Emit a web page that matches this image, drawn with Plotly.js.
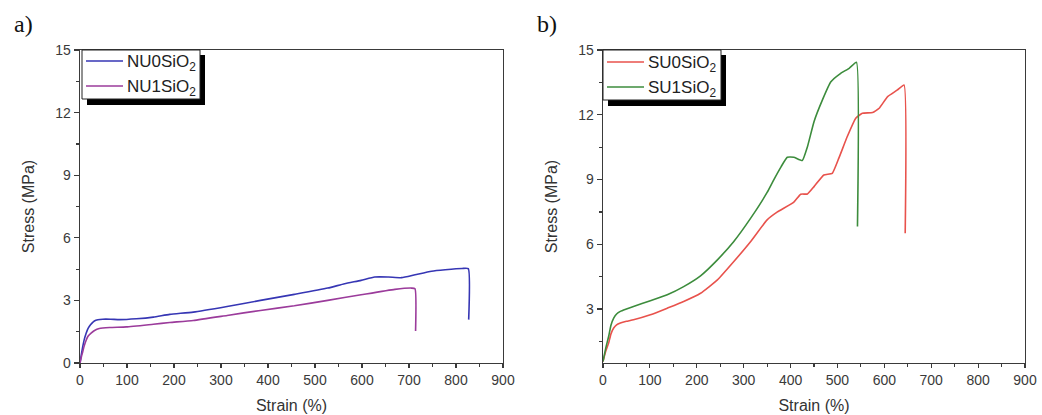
<!DOCTYPE html>
<html>
<head>
<meta charset="utf-8">
<script src="https://cdn.plot.ly/plotly-3.0.1.min.js"></script>
<style>html,body{margin:0;padding:0;background:#fff;}#chart{width:1042px;height:415px;}</style>
</head>
<body>
<div id="chart"></div>
<script>
// Panel a) NU series
const nu0Strain = [0, 3, 5.7, 9, 12.9, 16, 20, 25, 30.6, 38, 48.5, 65, 84, 120, 156, 191, 241, 313, 384, 456, 527, 563, 598, 627, 656, 684, 713, 748, 777, 813, 826, 827];
const nu0Stress = [0, 0.42, 0.77, 1.12, 1.41, 1.6, 1.76, 1.9, 2.01, 2.07, 2.10, 2.1, 2.08, 2.12, 2.2, 2.33, 2.44, 2.71, 3.0, 3.29, 3.59, 3.8, 3.96, 4.12, 4.12, 4.09, 4.23, 4.4, 4.47, 4.53, 4.52, 2.08];
const nu1Strain = [0, 3, 5.7, 9, 12.9, 17, 23.6, 31, 41, 63, 98.6, 156, 191, 241, 313, 384, 456, 527, 598, 670, 705.6, 712.7, 714];
const nu1Stress = [0, 0.3, 0.53, 0.82, 1.08, 1.28, 1.43, 1.56, 1.65, 1.7, 1.73, 1.86, 1.94, 2.04, 2.28, 2.52, 2.74, 3.0, 3.27, 3.53, 3.59, 3.56, 1.53];

// Panel b) SU series
const su0Strain = [0, 6, 12, 17, 22.8, 29, 37, 50, 65, 101, 137, 172, 208, 244, 279, 315, 350, 372, 407, 421.6, 436, 450, 471, 489, 503, 521, 539, 553, 575, 589, 607, 628, 642, 644.5];
const su0Stress = [0.57, 1.05, 1.42, 1.85, 2.12, 2.27, 2.35, 2.43, 2.5, 2.73, 3.04, 3.35, 3.73, 4.35, 5.2, 6.13, 7.13, 7.5, 7.95, 8.32, 8.33, 8.67, 9.21, 9.29, 9.99, 10.99, 11.84, 12.07, 12.1, 12.3, 12.84, 13.15, 13.38, 6.51];
const su1Strain = [0, 6, 12, 17, 22.8, 29, 37, 50, 65, 101, 137, 172, 208, 244, 279, 315, 350, 364.5, 380, 393, 407, 425, 436, 450, 468, 486, 507, 525, 540.5, 542.7];
const su1Stress = [0.57, 1.2, 1.73, 2.25, 2.58, 2.77, 2.89, 3.0, 3.12, 3.38, 3.66, 4.04, 4.54, 5.28, 6.13, 7.21, 8.4, 9.0, 9.6, 10.03, 10.03, 9.88, 10.52, 11.68, 12.69, 13.53, 13.92, 14.15, 14.43, 6.82];

const names = ['NU0SiO<sub>2</sub>', 'NU1SiO<sub>2</sub>', 'SU0SiO<sub>2</sub>', 'SU1SiO<sub>2</sub>'];
const colors = ['#3636b4', '#9b3b9b', '#e8524c', '#3c8c3c'];
const panelLabels = ['a)', 'b)'];
const xTicks = [0, 100, 200, 300, 400, 500, 600, 700, 800, 900];
const yTicks = [0, 3, 6, 9, 12, 15];

const traces = [
  {x: nu0Strain, y: nu0Stress, name: names[0], line: {color: colors[0], width: 1.6, shape: 'spline', smoothing: 0.5}, xaxis: 'x', yaxis: 'y'},
  {x: nu1Strain, y: nu1Stress, name: names[1], line: {color: colors[1], width: 1.6, shape: 'spline', smoothing: 0.5}, xaxis: 'x', yaxis: 'y'},
  {x: su0Strain, y: su0Stress, name: names[2], line: {color: colors[2], width: 1.6, shape: 'spline', smoothing: 0.4}, xaxis: 'x2', yaxis: 'y2'},
  {x: su1Strain, y: su1Stress, name: names[3], line: {color: colors[3], width: 1.6, shape: 'spline', smoothing: 0.4}, xaxis: 'x2', yaxis: 'y2'}
].map(t => Object.assign({type: 'scatter', mode: 'lines', showlegend: false}, t));

const fam = 'Liberation Sans, Arial, sans-serif';
const W = 1042, H = 415;
const px = v => v / W, py = v => (H - v) / H;

function xax(domain, anchor) {
  return {
    domain: domain, anchor: anchor, range: [0, 900], tickvals: xTicks, ticktext: xTicks.map(String),
    showgrid: false, zeroline: false, showline: true, mirror: true, linecolor: '#3a3a3a', linewidth: 1.4,
    ticks: 'outside', ticklen: 4, tickwidth: 1.2, tickcolor: '#3a3a3a',
    minor: {ticks: 'outside', dtick: 50, tick0: 0, ticklen: 3, tickcolor: '#3a3a3a', showgrid: false},
    tickfont: {family: fam, size: 14, color: '#3a3a3a'},
    title: {text: 'Strain (%)', font: {family: fam, size: 16, color: '#333'}, standoff: 12}
  };
}
function yax(domain, anchor, r) {
  return {
    domain: domain, anchor: anchor, range: r, tickvals: yTicks, ticktext: yTicks.map(String),
    showgrid: false, zeroline: false, showline: true, mirror: true, linecolor: '#3a3a3a', linewidth: 1.4,
    ticks: 'outside', ticklen: 5, tickwidth: 1.2, tickcolor: '#3a3a3a',
    minor: {ticks: 'outside', dtick: 1.5, tick0: 0, ticklen: 3, tickcolor: '#3a3a3a', showgrid: false},
    tickfont: {family: fam, size: 14, color: '#3a3a3a'},
    title: {text: 'Stress (MPa)', font: {family: fam, size: 16, color: '#333'}, standoff: 16}
  };
}

// Legend boxes (drawn by hand so the box and its drop shadow match the original figure)
const legendBoxes = [
  {left: 82, right: 200, top: 50, bottom: 99, rows: [61, 86], items: [0, 1]},
  {left: 603, right: 721, top: 50, bottom: 100, rows: [62, 87], items: [2, 3]}
];
const shapes = [], annotations = [];
legendBoxes.forEach(b => {
  shapes.push({type: 'rect', xref: 'paper', yref: 'paper', x0: px(b.left + 5), x1: px(b.right + 5), y0: py(b.bottom + 6), y1: py(b.top + 5), fillcolor: '#000', line: {width: 0}, layer: 'above'});
  shapes.push({type: 'rect', xref: 'paper', yref: 'paper', x0: px(b.left), x1: px(b.right), y0: py(b.bottom), y1: py(b.top), fillcolor: '#fff', line: {color: '#222', width: 1}, layer: 'above'});
  b.items.forEach((k, i) => {
    const yy = b.rows[i];
    shapes.push({type: 'line', xref: 'paper', yref: 'paper', x0: px(b.left + 4), x1: px(b.left + 41), y0: py(yy), y1: py(yy), line: {color: colors[k], width: 1.6}, layer: 'above'});
    annotations.push({text: names[k], xref: 'paper', yref: 'paper', x: px(b.left + 43), y: py(yy + 2), xanchor: 'left', yanchor: 'middle', showarrow: false, font: {family: fam, size: 17, color: '#222'}});
  });
});
[12, 535].forEach((x, i) => annotations.push({text: panelLabels[i], xref: 'paper', yref: 'paper', x: px(x), y: py(24), xanchor: 'left', yanchor: 'middle', showarrow: false, font: {family: 'Liberation Serif, Times New Roman, serif', size: 24, color: '#111'}}));

const yDom = [52 / H, 365 / H];
const layout = {
  width: W, height: H,
  margin: {l: 0, r: 0, t: 0, b: 0},
  paper_bgcolor: '#fff', plot_bgcolor: '#fff',
  showlegend: false,
  xaxis: xax([80 / W, 503 / W], 'y'),
  yaxis: yax(yDom, 'x', [0, 15]),
  xaxis2: xax([603 / W, 1025 / W], 'y2'),
  yaxis2: yax(yDom, 'x2', [0.5, 15]),
  shapes: shapes,
  annotations: annotations
};

Plotly.newPlot('chart', traces, layout, {displayModeBar: false, staticPlot: true});
</script>
</body>
</html>
